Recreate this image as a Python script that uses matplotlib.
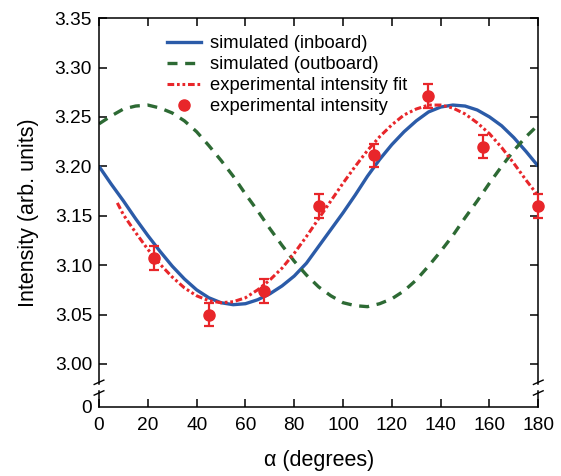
import matplotlib
matplotlib.use('Agg')
import matplotlib.pyplot as plt
from matplotlib.lines import Line2D

plt.rcParams['font.family'] = ['Liberation Sans', 'DejaVu Sans']

# simulated curves, every 5 degrees
alpha_sim = [0, 5, 10, 15, 20, 25, 30, 35, 40, 45, 50, 55, 60, 65, 70, 75, 80, 85, 90,
             95, 100, 105, 110, 115, 120, 125, 130, 135, 140, 145, 150, 155, 160, 165,
             170, 175, 180]
inboard = [3.200, 3.182, 3.165, 3.147, 3.130, 3.114, 3.099, 3.086, 3.075, 3.067, 3.062,
           3.060, 3.061, 3.065, 3.071, 3.079, 3.089, 3.102, 3.119, 3.136, 3.153, 3.171,
           3.190, 3.207, 3.222, 3.235, 3.246, 3.255, 3.260, 3.262, 3.261, 3.257, 3.250,
           3.241, 3.229, 3.215, 3.200]
outboard = [3.243, 3.251, 3.258, 3.261, 3.262, 3.259, 3.254, 3.246, 3.235, 3.221, 3.206,
            3.190, 3.172, 3.155, 3.137, 3.120, 3.104, 3.090, 3.078, 3.069, 3.062, 3.059,
            3.058, 3.061, 3.066, 3.074, 3.085, 3.099, 3.114, 3.130, 3.148, 3.165, 3.183,
            3.200, 3.216, 3.230, 3.242]

# fit of the experimental intensity
alpha_fit = [7.5, 10, 15, 20, 25, 30, 35, 40, 45, 50, 55, 60, 65, 70, 75, 80, 85, 90, 95,
             100, 105, 110, 115, 120, 125, 130, 135, 140, 145, 150, 155, 160, 165, 170,
             175, 180]
fit = [3.163, 3.151, 3.133, 3.116, 3.101, 3.088, 3.077, 3.069, 3.064, 3.062, 3.063,
       3.067, 3.075, 3.085, 3.097, 3.112, 3.129, 3.147, 3.165, 3.183, 3.200, 3.216,
       3.230, 3.242, 3.252, 3.258, 3.262, 3.262, 3.259, 3.253, 3.244, 3.233, 3.219,
       3.203, 3.186, 3.170]

# measured points
alpha_exp = [22.5, 45, 67.5, 90, 112.5, 135, 157.5, 180]
intensity_exp = [3.107, 3.050, 3.074, 3.160, 3.211, 3.271, 3.220, 3.160]
error_exp = [0.012, 0.012, 0.012, 0.012, 0.012, 0.012, 0.012, 0.012]

yticks = [3.00, 3.05, 3.10, 3.15, 3.20, 3.25, 3.30, 3.35]
xticks = [0, 20, 40, 60, 80, 100, 120, 140, 160, 180]

BLUE = '#2b5ba8'
GREEN = '#2d6a34'
RED = '#e8262a'

Y_BOTTOM = 2.9565   # bottom of the axis, labelled "0" (broken axis)
Y_TOP = 3.35

FIT_DASH = (2.2, 0.9, 0.9, 0.9, 0.9, 0.9)
OUT_DASH = (3.0, 2.3)


def run_main():
    fig = plt.figure(figsize=(5.61, 4.76), dpi=100)
    ax = fig.add_axes([0.1765, 0.145, 0.783, 0.817])

    ax.plot(alpha_sim, inboard, color=BLUE, lw=2.4, solid_capstyle='butt')
    ax.plot(alpha_sim, outboard, color=GREEN, lw=2.4, dashes=OUT_DASH)
    ax.plot(alpha_fit, fit, color=RED, lw=2.2, dashes=FIT_DASH)
    ax.errorbar(alpha_exp, intensity_exp, yerr=error_exp, fmt='o', color=RED,
                ms=8, elinewidth=1.6, capsize=3.5, capthick=1.6, clip_on=False,
                zorder=5)

    ax.set_xlim(0, 180)
    ax.set_ylim(Y_BOTTOM, Y_TOP)
    ax.set_xticks(xticks)
    ax.set_yticks([Y_BOTTOM] + yticks)
    ax.set_yticklabels(['0'] + ['%.2f' % v for v in yticks])
    ax.tick_params(direction='in', length=5.5, width=1.1, labelsize=13.8,
                   top=True, right=True, pad=5)
    ax.tick_params(axis='x', pad=7)

    # broken y axis: hide the side spines and redraw them with a gap
    gap_lo, gap_hi = 2.9727, 2.980
    for side in ['left', 'right']:
        ax.spines[side].set_visible(False)
    for sp in ax.spines.values():
        sp.set_linewidth(1.1)
    trans = ax.get_yaxis_transform()
    for xs in [0, 1]:
        ax.plot([xs, xs], [gap_hi, Y_TOP], color='black', lw=1.1,
                transform=trans, clip_on=False)
        ax.plot([xs, xs], [Y_BOTTOM, gap_lo], color='black', lw=1.1,
                transform=trans, clip_on=False)
        for yc in [gap_hi + 0.0015, gap_lo - 0.002]:
            ax.plot([xs - 0.011, xs + 0.011], [yc - 0.0022, yc + 0.0022],
                    color='black', lw=1.0, transform=trans, clip_on=False)
    # no tick marks at the "0" label
    ax.yaxis.get_major_ticks()[0].tick2line.set_visible(False)
    ax.yaxis.get_major_ticks()[0].tick1line.set_visible(False)

    ax.set_xlabel(u'\u03b1 (degrees)', fontsize=15.5, labelpad=12)
    ax.set_ylabel('Intensity (arb. units)', fontsize=15.5, labelpad=11)

    handles = [Line2D([], [], color=BLUE, lw=2.4),
               Line2D([], [], color=GREEN, lw=2.4, dashes=OUT_DASH),
               Line2D([], [], color=RED, lw=2.2, dashes=FIT_DASH),
               Line2D([], [], color=RED, marker='o', ms=8, ls='none')]
    labels = ['simulated (inboard)', 'simulated (outboard)',
              'experimental intensity fit', 'experimental intensity']
    ax.legend(handles, labels, loc='upper left', bbox_to_anchor=(0.137, 0.975),
              frameon=False, fontsize=13.2, handlelength=1.9, handletextpad=0.45,
              labelspacing=0.22, borderaxespad=0)

    fig.savefig('out.png', dpi=100)


if __name__ == '__main__':
    run_main()
